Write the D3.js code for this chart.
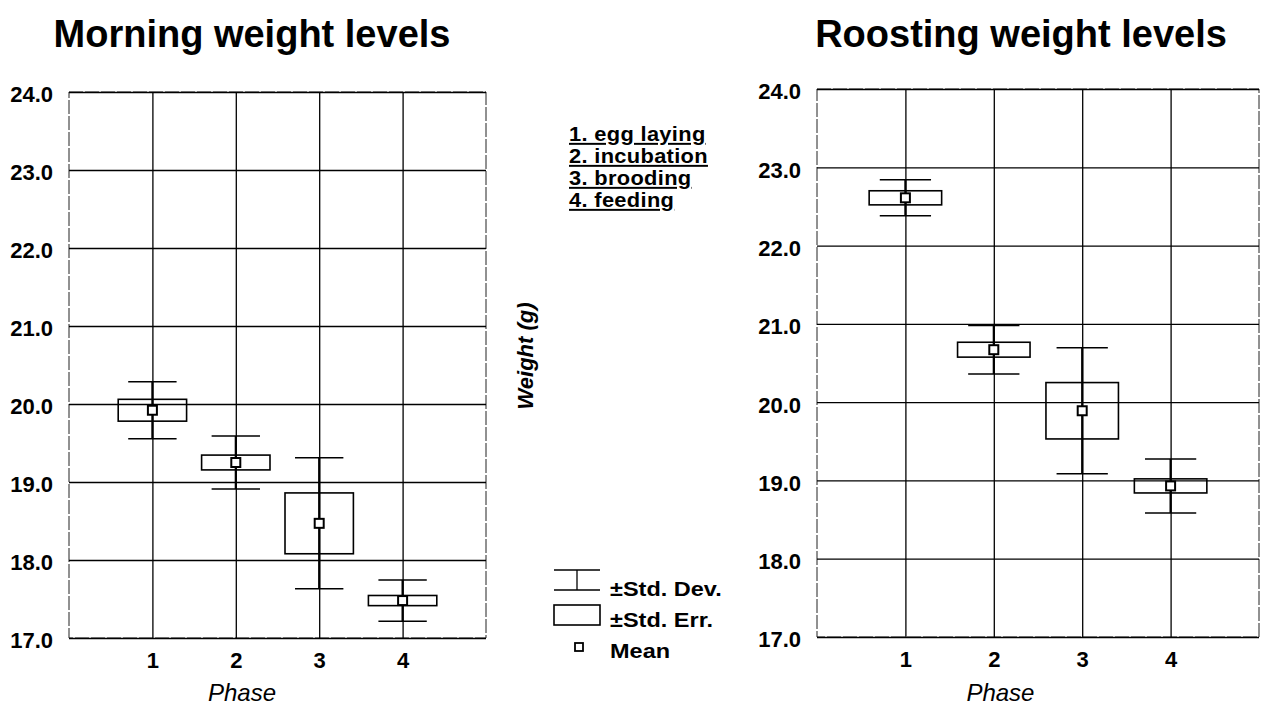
<!DOCTYPE html>
<html>
<head>
<meta charset="utf-8">
<script src="https://cdn.jsdelivr.net/npm/d3@7"></script>
<style>
  body { margin: 0; background: #fff; }
  svg { display: block; font-family: "Liberation Sans", Arial, sans-serif; }
</style>
</head>
<body>
<svg id="chart" width="1270" height="706"></svg>
<script>
// phases on the x axis
const phases = [1, 2, 3, 4];
const yTicks = [17, 18, 19, 20, 21, 22, 23, 24];
const phaseNames = ['1. egg laying', '2. incubation', '3. brooding', '4. feeding'];

// morning weights (g): mean, +/- std. err., +/- std. dev.
const morningMean = [19.92, 19.25, 18.47, 17.48];
const morningSE = [0.14, 0.095, 0.39, 0.065];
const morningSD = [0.365, 0.34, 0.84, 0.265];

// roosting weights (g)
const roostMean = [22.61, 20.67, 19.89, 18.93];
const roostSE = [0.09, 0.095, 0.36, 0.09];
const roostSD = [0.23, 0.31, 0.805, 0.345];

const svg = d3.select('#chart');

function drawPanel(opt) {
    const { left, top, width, height, title, titleX, mean, se, sd } = opt;

    const x = d3.scaleLinear().domain([0, 5]).range([left, left + width]);
    const y = d3.scaleLinear().domain([17, 24]).range([top + height, top]);
    const unit = x(1) - x(0);

    const g = svg.append('g');

    // title
    g.append('text')
        .attr('x', titleX)
        .attr('y', 47)
        .attr('text-anchor', 'middle')
        .style('font-size', '38px')
        .style('font-weight', 'bold')
        .text(title);

    // frame (thin, broken like the scan)
    g.append('rect')
        .attr('x', left).attr('y', top)
        .attr('width', width).attr('height', height)
        .attr('fill', 'none')
        .attr('stroke', '#222')
        .attr('stroke-width', 1)
        .attr('stroke-dasharray', '14,2');

    // y axis with grid lines
    const yAxis = d3.axisLeft(y)
        .tickValues(yTicks)
        .tickSize(-width)
        .tickPadding(16)
        .tickFormat(d3.format('.1f'));

    const ya = g.append('g')
        .attr('transform', `translate(${left},0)`)
        .call(yAxis);
    ya.select('.domain').remove();
    ya.selectAll('line').attr('stroke', '#000').attr('stroke-width', 1.3);
    ya.selectAll('text')
        .attr('dy', '0.45em')
        .attr('fill', '#000')
        .style('font-size', '22px')
        .style('font-weight', 'bold');

    // x axis with grid lines
    const xAxis = d3.axisBottom(x)
        .tickValues(phases)
        .tickSize(-height)
        .tickPadding(14)
        .tickFormat(d3.format('d'));

    const xa = g.append('g')
        .attr('transform', `translate(0,${top + height})`)
        .call(xAxis);
    xa.select('.domain').remove();
    xa.selectAll('line').attr('stroke', '#000').attr('stroke-width', 1.3);
    xa.selectAll('text')
        .attr('fill', '#000')
        .style('font-size', '22px')
        .style('font-weight', 'bold');

    // x title
    g.append('text')
        .attr('x', left + width * 0.415)
        .attr('y', 701)
        .attr('text-anchor', 'middle')
        .style('font-size', '24px')
        .style('font-style', 'italic')
        .text('Phase');

    const rows = phases.map((p, i) => ({ p, m: mean[i], se: se[i], sd: sd[i] }));
    const marks = g.append('g');

    // whisker stems
    marks.selectAll('.stem').data(rows).join('line')
        .attr('class', 'stem')
        .attr('x1', d => x(d.p)).attr('x2', d => x(d.p))
        .attr('y1', d => y(d.m + d.sd)).attr('y2', d => y(d.m - d.sd))
        .attr('stroke', '#000').attr('stroke-width', 2.2);

    // std. dev. caps
    const capW = unit * 0.58;
    ['hi', 'lo'].forEach(k => {
        marks.selectAll('.cap-' + k).data(rows).join('line')
            .attr('class', 'cap-' + k)
            .attr('x1', d => x(d.p) - capW / 2).attr('x2', d => x(d.p) + capW / 2)
            .attr('y1', d => y(k === 'hi' ? d.m + d.sd : d.m - d.sd))
            .attr('y2', d => y(k === 'hi' ? d.m + d.sd : d.m - d.sd))
            .attr('stroke', '#000').attr('stroke-width', 1.5);
    });

    // std. err. boxes
    const boxW = unit * 0.82;
    marks.selectAll('.se').data(rows).join('rect')
        .attr('class', 'se')
        .attr('x', d => x(d.p) - boxW / 2)
        .attr('width', boxW)
        .attr('y', d => y(d.m + d.se))
        .attr('height', d => y(d.m - d.se) - y(d.m + d.se))
        .attr('fill', 'none')
        .attr('stroke', '#000').attr('stroke-width', 1.6);

    // means
    marks.selectAll('.mean').data(rows).join('rect')
        .attr('class', 'mean')
        .attr('x', d => x(d.p) - 4.5).attr('y', d => y(d.m) - 4.5)
        .attr('width', 9).attr('height', 9)
        .attr('fill', '#fff')
        .attr('stroke', '#000').attr('stroke-width', 2);
}

drawPanel({
    left: 69, top: 92, width: 417, height: 546,
    title: 'Morning weight levels', titleX: 252,
    mean: morningMean, se: morningSE, sd: morningSD
});

drawPanel({
    left: 817, top: 89, width: 442, height: 548,
    title: 'Roosting weight levels', titleX: 1021,
    mean: roostMean, se: roostSE, sd: roostSD
});

// shared y title
svg.append('text')
    .attr('transform', 'translate(533,356) rotate(-90)')
    .attr('text-anchor', 'middle')
    .style('font-size', '22px')
    .style('font-weight', 'bold')
    .style('font-style', 'italic')
    .text('Weight (g)');

// phase key (the scan's lettering is wider than Arial, hence the x stretch)
svg.append('g')
    .attr('transform', 'translate(569,0) scale(1.12,1)')
    .selectAll('text').data(phaseNames).join('text')
    .attr('x', 0)
    .attr('y', (d, i) => 141 + i * 22)
    .style('font-size', '19.5px')
    .style('font-weight', 'bold')
    .style('letter-spacing', '0.3px')
    .style('text-decoration', 'underline')
    .text(d => d);

// symbol legend
const lg = svg.append('g');
lg.append('line').attr('x1', 554).attr('x2', 600).attr('y1', 570).attr('y2', 570).attr('stroke', '#000').attr('stroke-width', 1.3);
lg.append('line').attr('x1', 554).attr('x2', 600).attr('y1', 590).attr('y2', 590).attr('stroke', '#000').attr('stroke-width', 1.3);
lg.append('line').attr('x1', 577).attr('x2', 577).attr('y1', 570).attr('y2', 590).attr('stroke', '#000').attr('stroke-width', 1.3);
lg.append('rect').attr('x', 554).attr('y', 605).attr('width', 46).attr('height', 20)
    .attr('fill', 'none').attr('stroke', '#000').attr('stroke-width', 1.6);
lg.append('rect').attr('x', 575).attr('y', 643).attr('width', 8).attr('height', 8)
    .attr('fill', '#fff').attr('stroke', '#000').attr('stroke-width', 1.8);

const legendLabels = ['±Std. Dev.', '±Std. Err.', 'Mean'];
lg.append('g')
    .attr('transform', 'translate(610,0) scale(1.12,1)')
    .selectAll('text').data(legendLabels).join('text')
    .attr('x', 0)
    .attr('y', (d, i) => 596 + i * 31)
    .style('font-size', '21px')
    .style('font-weight', 'bold')
    .text(d => d);
</script>
</body>
</html>
